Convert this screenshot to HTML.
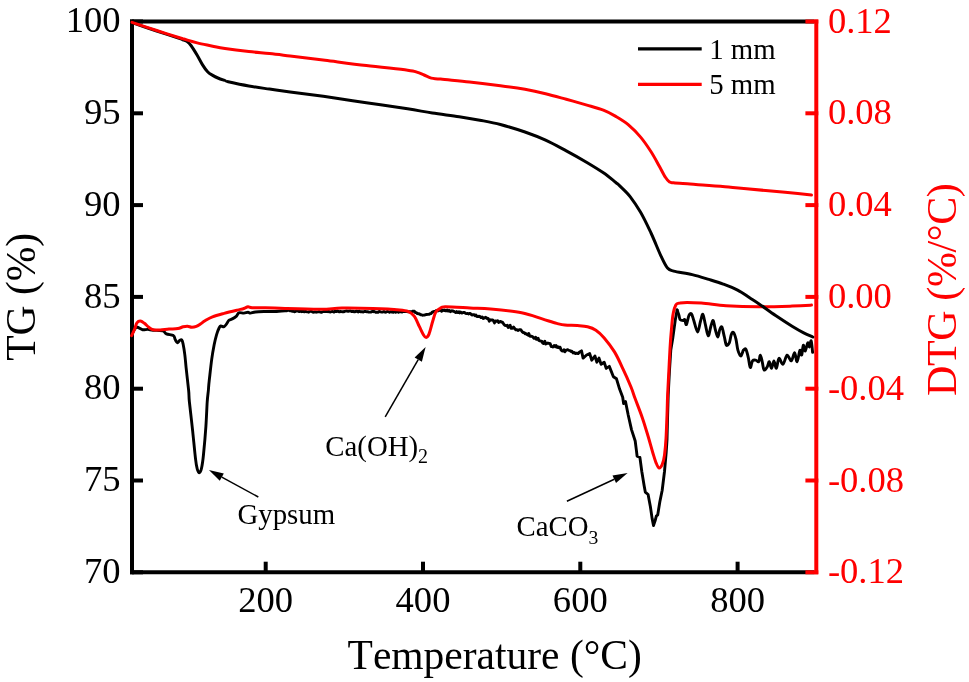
<!DOCTYPE html>
<html><head><meta charset="utf-8"><title>TG-DTG</title>
<style>html,body{margin:0;padding:0;background:#fff;}svg{display:block;}text{font-kerning:none;}svg{will-change:transform;}</style></head>
<body>
<svg width="969" height="682" viewBox="0 0 969 682">
<rect width="969" height="682" fill="#fff"/>
<g stroke="#000" stroke-width="4" fill="none">
<path d="M132,19.5V574.3"/>
<path d="M130,21.5H814.3"/>
<path d="M130,572.3H814.3"/>
<path d="M132,21.5H143"/>
<path d="M132,113.3H143"/>
<path d="M132,205.1H143"/>
<path d="M132,296.9H143"/>
<path d="M132,388.7H143"/>
<path d="M132,480.5H143"/>
<path d="M132,572.3H143"/>
<path d="M265.7,572.3V561.7"/>
<path d="M423.0,572.3V561.7"/>
<path d="M580.3,572.3V561.7"/>
<path d="M737.6,572.3V561.7"/>
</g>
<g stroke="#f00" stroke-width="4" fill="none">
<path d="M816.3,19.5V574.3"/>
<path d="M805.4,21.5H818.3"/>
<path d="M805.4,113.3H818.3"/>
<path d="M805.4,205.1H818.3"/>
<path d="M805.4,296.9H818.3"/>
<path d="M805.4,388.7H818.3"/>
<path d="M805.4,480.5H818.3"/>
<path d="M805.4,572.3H818.3"/>
</g>
<g fill="none" stroke-linejoin="round" stroke-linecap="round" stroke-width="3">
<path d="M132.0,334.0C132.5,333.1 134.1,329.6 135.0,328.5C135.9,327.4 136.0,327.1 137.3,327.3C138.6,327.5 140.8,329.4 142.6,329.7C144.4,330.0 146.2,329.3 147.9,329.4C149.7,329.5 150.6,330.1 153.1,330.3C155.6,330.5 160.6,330.2 162.8,330.8C165.0,331.4 164.6,333.1 166.4,333.9C168.2,334.7 171.9,334.7 173.4,335.6C174.9,336.6 174.5,338.4 175.2,339.6C175.9,340.8 176.7,342.6 177.4,342.7C178.1,342.8 178.9,340.9 179.6,340.5C180.3,340.1 181.2,339.4 181.8,340.0C182.4,340.6 182.6,341.6 183.1,344.0C183.6,346.4 184.3,350.7 184.8,354.6C185.3,358.5 185.5,361.7 186.1,367.6C186.7,373.5 188.0,384.3 188.6,390.0C189.2,395.7 188.7,395.1 189.4,402.0C190.1,408.9 191.7,421.7 192.7,431.3C193.7,440.9 194.8,453.1 195.6,459.4C196.3,465.6 196.6,466.6 197.2,468.8C197.8,471.0 198.6,472.8 199.3,472.8C200.0,472.8 200.7,471.9 201.4,468.8C202.1,465.8 202.8,461.6 203.5,454.5C204.2,447.4 205.3,435.1 205.9,426.3C206.5,417.6 206.8,408.1 207.2,402.0C207.6,395.9 208.1,393.5 208.4,390.0C208.7,386.5 208.6,385.9 209.2,380.8C209.8,375.7 210.9,365.4 211.7,359.4C212.5,353.3 213.4,348.6 214.2,344.5C215.0,340.4 215.8,337.4 216.6,334.6C217.4,331.9 218.4,329.4 219.1,328.0C219.8,326.6 220.0,326.2 220.8,326.0C221.6,325.8 223.1,327.1 224.1,326.7C225.1,326.3 225.8,324.9 226.6,323.9C227.4,322.9 227.8,321.3 228.7,320.5C229.6,319.7 231.0,319.6 232.3,318.9C233.6,318.2 235.4,317.1 236.5,316.1C237.6,315.1 237.7,313.3 238.9,312.8C240.1,312.3 242.4,313.2 243.9,313.1C245.4,313.0 246.9,312.3 248.0,312.3C249.1,312.3 249.3,313.2 250.5,313.1C251.7,313.1 252.9,312.3 255.4,312.0C257.9,311.7 262.4,311.6 265.4,311.5C268.4,311.4 270.3,311.6 273.6,311.5C276.9,311.4 283.1,310.8 285.0,310.7L285.0,310.5L285.8,310.9L286.5,310.8L287.5,310.4L288.5,310.4L289.4,310.5L290.2,310.9L291.4,310.7L292.2,311.2L293.5,311.2L294.4,311.7L295.1,311.6L296.0,310.9L296.8,311.1L298.0,311.0L299.0,311.6L299.9,311.5L300.7,311.1L301.5,311.7L302.5,311.4L303.5,311.5L304.4,311.9L305.5,311.4L306.6,311.7L307.8,311.9L308.7,312.2L309.4,311.6L310.6,311.4L311.6,311.3L312.7,312.1L313.7,312.2L314.6,312.0L315.7,311.9L316.6,312.2L317.9,311.9L319.0,311.5L320.1,312.1L321.4,312.3L322.3,311.9L323.4,311.5L324.4,311.6L325.1,311.4L326.3,311.5L327.1,311.7L328.4,311.4L329.3,311.8L330.6,312.0L331.8,311.5L332.7,311.5L334.0,312.1L334.8,311.3L335.6,311.3L336.6,311.6L337.4,311.0L338.4,311.4L339.4,311.9L340.6,311.5L341.6,311.6L342.4,311.8L343.5,311.8L344.7,311.3L345.6,311.1L346.7,311.0L347.5,311.2L348.3,311.3L349.0,311.0L349.8,311.1L350.7,311.0L351.9,311.6L352.7,311.3L353.6,311.4L354.4,311.9L355.7,311.5L356.7,311.2L357.4,311.4L358.3,311.9L359.1,311.1L360.4,311.7L361.2,311.7L361.9,311.7L363.2,312.0L364.3,311.4L365.2,311.4L366.4,311.7L367.5,311.6L368.4,312.1L369.7,312.1L370.8,312.1L372.0,311.5L373.0,311.7L373.7,311.3L374.6,311.6L375.7,312.3L376.7,312.2L378.0,312.3L378.9,311.5L379.7,311.5L380.5,311.9L381.8,312.1L382.8,312.0L383.9,311.4L385.0,312.2L386.2,312.1L387.2,311.5L388.4,311.6L389.5,312.3L390.5,311.7L391.8,312.0L392.6,311.4L393.3,312.2L394.5,311.4L395.7,312.3L396.8,311.7L397.8,311.4L398.6,312.3L399.6,311.8L400.9,311.7L402.1,312.1L403.0,311.6L403.8,311.5L404.9,311.5L405.8,311.4L407.1,311.6L408.1,311.8L409.3,311.6L410.5,311.7L411.6,311.7L412.3,311.6L413.1,311.1L414.3,311.3L415.3,312.5L416.3,312.7L417.3,313.5L418.5,313.7L419.5,314.0L420.4,314.7L421.4,314.7L422.5,315.2L423.5,315.1L424.5,315.1L425.6,314.7L426.6,314.5L427.9,314.4L429.1,314.3L430.0,313.7L431.2,313.5L432.0,312.4L433.0,311.9L433.8,311.5L434.9,311.7L436.2,310.5L437.3,310.7L438.1,310.9L439.4,310.2L440.6,310.3L441.6,311.3L442.8,310.0L443.8,310.5L444.7,310.0L445.6,310.9L446.3,310.8L447.3,310.0L448.2,311.1L449.2,310.4L450.5,311.7L451.7,310.8L452.6,310.9L453.8,311.4L454.6,311.8L455.8,312.6L456.7,311.6L457.9,312.5L459.0,311.8L459.8,312.9L460.7,312.0L462.0,313.1L463.2,312.4L464.4,312.5L465.6,313.3L466.5,313.6L467.8,313.4L468.5,314.0L469.4,313.5L470.2,313.5L471.0,314.1L471.9,315.0L472.7,314.8L473.6,314.7L474.3,314.7L475.0,315.7L476.0,315.1L477.0,316.5L477.8,316.6L478.7,316.3L479.9,316.5L480.9,317.6L482.2,317.0L483.4,318.5L484.5,318.0L485.4,317.3L486.2,317.6L487.3,318.6L488.1,318.4L489.3,321.2L490.4,319.8L491.3,320.0L492.2,319.9L493.2,320.4L494.5,322.9L495.5,320.9L496.8,321.4L497.7,320.7L498.6,322.4L499.6,321.8L500.6,321.4L501.5,322.0L502.4,322.2L503.2,323.3L504.0,324.5L505.0,325.4L506.1,325.7L507.3,325.3L508.2,327.4L509.0,326.9L510.1,325.3L511.3,328.4L512.4,328.3L513.6,327.0L514.6,328.5L515.8,329.9L517.0,329.7L518.2,330.5L519.3,329.6L520.1,329.6L521.0,329.9L522.2,331.8L523.2,332.5L524.4,332.6L525.1,333.9L526.2,333.6L527.2,334.6L528.0,335.2L528.8,333.6L529.7,336.0L530.5,336.4L531.8,336.3L532.7,336.7L533.8,338.2L534.9,338.3L535.6,337.2L536.5,339.4L537.4,339.4L538.1,338.2L538.9,340.5L540.1,341.0L540.9,341.0L541.9,341.4L542.7,343.0L543.5,343.5L544.8,341.2L545.7,344.0L547.0,343.4L547.9,343.0L549.2,343.5L550.2,343.7L551.2,346.5L552.0,346.4L553.0,347.0L554.1,345.5L555.4,346.8L556.1,345.6L557.1,347.4L558.0,346.8L558.9,347.7L560.1,347.2L561.2,350.2L562.0,350.8L563.1,351.1L564.0,349.7L564.9,351.8L566.0,350.1L566.9,350.0L567.7,349.6L568.9,350.4L570.1,350.6L571.0,351.5L571.8,351.2L573.1,353.0L574.3,352.5L575.5,353.6L576.5,353.2L577.3,353.3L578.2,353.6L579.3,352.3L581.5,350.9L583.1,358.1L586.6,355.0L589.7,353.6L591.8,360.2L594.9,356.0L596.9,362.2L599.0,358.1L601.1,364.3L604.2,362.2L606.2,368.4L609.3,366.4L613.4,376.7L616.5,378.8L619.6,389.1L622.7,397.3L623.6,403.5L625.5,401.5L628.1,414.5L631.5,429.6L635.2,441.0L636.4,450.4L637.1,456.2L639.9,457.4L641.8,471.5L644.1,485.6L645.3,492.1L648.1,494.5L650.4,506.7L652.1,518.4L653.5,525.5L655.1,520.8L656.3,516.1L657.7,514.9L659.8,502.0L662.2,490.3L664.5,471.5L666.2,452.0L667.0,440.0L667.5,420.0L668.2,395.0L669.4,372.0L670.8,350.0L672.8,338.0L675.2,320.5L677.1,310.0" stroke="#000" stroke-width="2.9"/>
<path d="M677.1,310.0C677.4,310.9 678.5,313.9 679.0,315.5C679.5,317.1 679.4,318.8 680.1,319.6C680.8,320.4 682.3,320.5 683.1,320.5C683.9,320.5 684.2,318.9 684.8,319.6C685.3,320.3 685.7,325.3 686.4,324.6C687.1,323.9 688.1,317.3 688.9,315.5C689.7,313.7 690.6,313.1 691.4,313.9C692.2,314.7 692.8,317.5 693.8,320.5C694.8,323.5 696.5,331.9 697.6,332.0C698.7,332.1 699.6,324.2 700.5,321.3C701.4,318.4 702.1,313.8 702.9,314.3C703.7,314.9 704.5,321.0 705.4,324.6C706.3,328.2 707.3,335.5 708.2,335.8C709.1,336.1 710.1,328.8 710.9,326.2C711.7,323.6 712.5,319.9 713.2,320.5C713.9,321.1 714.5,326.8 715.3,329.5C716.1,332.2 717.0,337.0 717.8,337.0C718.5,337.0 719.1,331.1 719.8,329.5C720.5,327.9 721.1,325.9 721.9,327.1C722.7,328.4 723.6,334.0 724.4,337.0C725.1,340.0 725.6,344.2 726.4,345.2C727.2,346.1 728.6,344.5 729.4,342.7C730.2,340.9 730.6,336.2 731.3,334.5C732.0,332.8 732.7,331.7 733.5,332.5C734.3,333.3 735.3,336.4 736.0,339.4C736.7,342.3 737.1,347.4 737.9,350.2C738.7,353.0 740.0,356.0 740.9,356.0C741.8,356.0 742.6,351.3 743.4,350.2C744.2,349.1 745.1,348.2 745.9,349.4C746.7,350.6 747.6,354.6 748.3,357.6C749.0,360.6 749.6,366.9 750.3,367.5C751.0,368.1 751.6,362.1 752.5,360.9C753.4,359.7 754.8,360.0 755.8,360.1C756.8,360.2 757.9,362.5 758.7,361.7C759.5,360.9 759.8,355.0 760.4,355.1C761.0,355.2 761.8,360.1 762.4,362.6C763.0,365.1 763.2,369.3 764.0,370.0C764.8,370.7 766.4,368.1 767.3,366.7C768.2,365.3 768.6,361.4 769.3,361.7C770.0,362.0 770.7,368.4 771.5,368.3C772.3,368.2 773.1,360.9 773.9,360.9C774.7,360.9 775.6,368.7 776.4,368.3C777.2,367.9 777.8,359.1 778.9,358.4C780.0,357.7 781.6,364.8 783.0,364.2C784.4,363.6 785.7,355.7 787.1,355.1C788.5,354.6 790.0,361.3 791.3,360.9C792.5,360.5 793.6,352.6 794.6,352.7C795.6,352.8 796.2,362.1 797.1,361.7C798.0,361.3 799.2,351.3 800.0,350.2C800.8,349.1 801.2,355.9 801.7,355.1C802.2,354.3 802.7,345.9 803.3,345.2C803.9,344.5 804.5,351.4 805.3,351.0C806.0,350.6 807.1,343.4 807.8,342.7C808.5,342.0 808.8,347.2 809.4,346.9C810.0,346.6 810.7,340.0 811.2,340.9C811.7,341.8 812.4,350.4 812.6,352.3" stroke="#000" stroke-width="2.9"/>
<path d="M131.6,335.6C132.1,334.5 133.8,331.1 134.7,329.0C135.6,326.9 135.9,324.2 136.9,322.9C137.9,321.6 139.2,321.0 140.4,321.1C141.7,321.2 143.0,322.3 144.4,323.3C145.8,324.3 147.3,326.2 148.8,327.3C150.3,328.4 151.3,329.3 153.2,329.7C155.1,330.1 157.6,330.0 160.2,329.9C162.8,329.8 166.1,329.2 169.0,329.0C171.9,328.8 175.5,329.0 177.8,328.6C180.2,328.2 181.5,327.2 183.1,326.8C184.7,326.4 186.0,326.1 187.5,326.2C189.0,326.3 190.4,327.3 191.9,327.3C193.4,327.3 194.8,327.0 196.3,326.4C197.8,325.8 199.2,324.8 200.7,323.8C202.1,322.9 203.0,321.9 205.0,320.7C207.0,319.5 209.3,318.0 212.5,316.8C215.7,315.6 220.0,314.5 224.1,313.4C228.2,312.3 234.0,310.9 237.3,310.1C240.6,309.3 242.1,309.1 243.9,308.5C245.7,307.9 246.6,306.9 248.0,306.8C249.4,306.7 249.2,307.6 252.1,307.8C255.0,308.0 259.9,307.7 265.4,307.8C270.9,307.9 275.7,308.2 285.0,308.5C294.3,308.8 311.8,309.4 321.3,309.3C330.8,309.2 333.3,308.2 341.9,308.1C350.5,308.0 363.3,308.2 372.9,308.5C382.5,308.8 393.8,309.4 399.7,309.9C405.6,310.4 405.6,310.4 408.0,311.4C410.4,312.4 412.3,313.6 414.2,316.1C416.1,318.6 417.8,323.3 419.3,326.4C420.8,329.5 422.3,332.9 423.4,334.7C424.5,336.5 425.2,337.5 426.1,337.4C427.0,337.3 427.9,336.8 429.0,334.1C430.1,331.4 431.6,325.0 432.7,321.3C433.8,317.6 434.6,314.1 435.8,312.0C437.0,309.9 438.4,309.4 440.0,308.5C441.6,307.6 440.1,306.9 445.1,306.8C450.1,306.7 462.4,307.6 470.0,308.0C477.6,308.4 482.0,308.2 490.6,309.0C499.2,309.8 513.0,311.1 521.6,312.7C530.2,314.3 536.4,317.1 542.2,318.9C548.1,320.7 552.9,322.4 556.7,323.4C560.5,324.4 561.5,324.8 564.9,325.1C568.3,325.5 573.5,325.2 577.3,325.5C581.1,325.8 584.5,325.9 587.6,326.7C590.7,327.5 593.1,328.3 595.9,330.2C598.7,332.1 601.1,334.3 604.2,337.9C607.3,341.5 611.4,346.8 614.5,351.9C617.6,357.0 620.0,362.5 622.7,368.4C625.5,374.2 628.9,381.9 631.0,387.0C633.1,392.1 633.3,393.7 635.2,398.8C637.1,403.9 640.1,411.2 642.2,417.5C644.4,423.8 646.3,430.4 648.1,436.3C649.9,442.2 651.4,448.2 652.8,452.7C654.2,457.2 655.2,460.8 656.3,463.3C657.3,465.9 658.1,467.8 659.1,468.0C660.1,468.2 661.3,466.6 662.2,464.5C663.1,462.4 663.9,459.4 664.5,455.1C665.1,450.8 665.6,445.4 666.0,438.7C666.4,432.0 666.7,422.4 667.0,415.2C667.3,408.0 667.3,402.8 667.6,395.6C667.9,388.4 668.4,379.8 668.8,372.0C669.2,364.2 669.6,355.7 670.0,348.7C670.4,341.7 670.9,335.5 671.4,330.0C671.9,324.5 672.2,319.7 672.8,315.8C673.4,311.9 674.0,308.5 675.2,306.4C676.4,304.2 675.5,303.4 679.9,302.9C684.2,302.3 693.6,302.6 701.3,303.1C709.0,303.6 716.5,305.2 726.1,305.8C735.7,306.4 748.1,306.8 759.1,306.8C770.1,306.9 783.4,306.4 792.1,306.1C800.8,305.8 808.3,305.3 811.5,305.1" stroke="#f00"/>
<path d="M132.0,22.5C134.3,23.3 139.9,25.4 145.6,27.3C151.3,29.2 160.6,32.2 166.3,34.1C172.0,36.0 177.1,37.7 180.0,38.7C182.9,39.7 182.8,39.8 184.0,40.2C185.2,40.7 185.7,40.5 186.9,41.4C188.1,42.3 189.3,43.2 191.0,45.5C192.7,47.8 195.3,52.1 197.2,55.3C199.1,58.5 200.7,61.8 202.4,64.6C204.1,67.3 205.9,70.0 207.6,71.8C209.3,73.6 211.0,74.4 212.7,75.4C214.4,76.4 215.8,77.1 217.9,78.0C220.0,78.9 223.3,80.0 225.0,80.6C226.7,81.2 224.2,80.9 228.2,81.8C232.2,82.7 241.9,84.8 248.8,86.0C255.7,87.2 262.6,88.1 269.5,89.1C276.4,90.1 280.9,90.7 290.1,91.9C299.4,93.2 312.3,94.8 325.0,96.6C337.7,98.4 352.5,100.7 366.3,102.7C380.1,104.7 396.6,107.1 407.6,108.8C418.6,110.5 423.7,111.7 432.3,113.0C440.9,114.3 451.3,115.5 459.2,116.7C467.1,117.9 472.9,118.9 479.8,120.2C486.7,121.5 492.9,122.5 500.4,124.5C507.9,126.5 517.5,129.4 525.0,132.0C532.5,134.6 538.7,137.0 545.6,140.2C552.5,143.3 559.4,147.2 566.3,150.9C573.2,154.6 580.7,158.8 586.9,162.5C593.1,166.2 598.6,169.5 603.4,172.8C608.2,176.1 613.0,180.3 615.8,182.5C618.6,184.7 617.6,183.7 620.0,186.1C622.4,188.5 626.9,192.4 630.3,196.8C633.7,201.2 637.1,206.3 640.6,212.3C644.1,218.3 647.5,225.6 651.0,233.0C654.5,240.4 658.5,250.9 661.3,256.7C664.0,262.5 665.4,265.6 667.5,268.0C669.6,270.4 669.6,270.0 673.7,271.1C677.8,272.2 686.4,273.2 692.2,274.6C698.1,276.0 703.6,277.8 708.8,279.4C714.0,281.0 718.4,282.3 723.2,284.1C728.0,285.9 733.1,287.8 737.6,290.1C742.1,292.4 746.4,295.7 750.0,298.0C753.6,300.3 754.8,301.0 759.1,303.9C763.4,306.8 770.1,311.8 775.6,315.5C781.1,319.2 787.4,323.3 792.1,326.2C796.8,329.1 800.2,331.0 803.7,332.8C807.2,334.6 811.3,336.3 812.8,337.0" stroke="#000"/>
<path d="M132.0,22.3C134.3,23.1 139.9,25.0 145.6,26.9C151.3,28.8 160.1,31.6 166.3,33.6C172.5,35.6 177.7,37.2 182.8,38.8C188.0,40.3 192.2,41.7 197.2,42.9C202.2,44.1 208.1,45.2 212.7,46.2C217.3,47.2 219.0,47.7 225.0,48.6C231.0,49.5 241.4,50.8 248.8,51.6C256.2,52.4 262.6,52.9 269.5,53.6C276.4,54.3 280.9,54.9 290.1,56.0C299.4,57.1 312.3,58.7 325.0,60.3C337.7,61.9 352.5,63.9 366.3,65.5C380.1,67.2 399.2,69.1 407.6,70.2C416.0,71.3 414.1,71.3 416.8,72.1C419.6,72.9 421.7,74.0 424.1,75.0C426.5,76.0 428.6,77.4 431.3,78.1C434.1,78.8 434.2,78.4 440.6,79.1C447.0,79.8 459.5,80.9 469.5,82.0C479.5,83.1 491.1,84.5 500.4,85.7C509.6,86.9 517.5,88.0 525.0,89.3C532.5,90.6 538.7,92.0 545.6,93.7C552.5,95.4 559.4,97.4 566.3,99.3C573.2,101.2 580.7,103.3 586.9,105.1C593.1,106.9 598.6,108.3 603.4,110.2C608.2,112.1 611.7,114.0 615.8,116.4C619.9,118.8 624.1,121.2 628.2,124.7C632.3,128.2 636.8,132.6 640.6,137.1C644.4,141.6 647.8,146.7 650.9,151.5C654.0,156.3 656.8,161.7 659.2,166.0C661.6,170.3 663.7,174.7 665.4,177.3C667.1,180.0 668.1,181.0 669.5,181.9C670.9,182.8 670.2,182.5 673.6,182.8C677.0,183.2 685.3,183.6 690.1,184.0C694.9,184.4 696.8,184.6 702.6,185.0C708.4,185.4 718.1,186.1 725.0,186.7C731.9,187.3 733.8,187.7 743.8,188.6C753.8,189.5 773.8,191.2 785.1,192.3C796.4,193.4 807.1,194.6 811.5,195.1" stroke="#f00"/>
</g>
<g font-family="'Liberation Serif', serif" font-size="36.6">
<text x="120.5" y="32.1" text-anchor="end">100</text>
<text x="120.5" y="123.9" text-anchor="end">95</text>
<text x="120.5" y="215.7" text-anchor="end">90</text>
<text x="120.5" y="307.5" text-anchor="end">85</text>
<text x="120.5" y="399.3" text-anchor="end">80</text>
<text x="120.5" y="491.1" text-anchor="end">75</text>
<text x="120.5" y="582.9" text-anchor="end">70</text>
<text x="265.7" y="611.8" text-anchor="middle">200</text>
<text x="423.0" y="611.8" text-anchor="middle">400</text>
<text x="580.3" y="611.8" text-anchor="middle">600</text>
<text x="737.6" y="611.8" text-anchor="middle">800</text>
<g fill="#f00">
<text x="827.9" y="32.5">0.12</text>
<text x="827.9" y="124.3">0.08</text>
<text x="827.9" y="216.1">0.04</text>
<text x="827.9" y="307.9">0.00</text>
<text x="827.9" y="399.7">-0.04</text>
<text x="827.9" y="491.5">-0.08</text>
<text x="827.9" y="583.3">-0.12</text>
</g></g>
<g font-family="'Liberation Serif', serif" font-size="41.5">
<text x="494.7" y="668.8" text-anchor="middle">Temperature (°C)</text>
<text transform="translate(35.0,296.8) rotate(-90)" text-anchor="middle" font-size="41.5">TG (%)</text>
<text transform="translate(955.8,289.8) rotate(-90)" text-anchor="middle" fill="#f00" font-size="42" letter-spacing="-0.4">DTG (%/°C)</text>
</g>
<g stroke-width="3.2" fill="none"><path d="M638,48.8H701.7" stroke="#000"/><path d="M638,84.4H701.7" stroke="#f00"/></g>
<g font-family="'Liberation Serif', serif" font-size="28.8">
<text x="709.2" y="59">1 mm</text>
<text x="709.2" y="94.3">5 mm</text>
<text x="237.5" y="524">Gypsum</text>
<text x="325.3" y="455.5">Ca(OH)<tspan font-size="20" dy="7.5">2</tspan></text>
<text x="516.5" y="536.2">CaCO<tspan font-size="19.6" dy="7.6">3</tspan></text>
</g>
<path d="M258.3,497.0L221.8,477.1" stroke="#000" stroke-width="1.5" fill="none"/><path d="M208.9,470.1L223.8,473.4L219.8,480.8Z" fill="#000"/>
<path d="M385.2,416.8L418.2,359.7" stroke="#000" stroke-width="1.5" fill="none"/><path d="M425.6,347.0L421.9,361.8L414.6,357.6Z" fill="#000"/>
<path d="M566.9,501.2L614.3,479.3" stroke="#000" stroke-width="1.5" fill="none"/><path d="M627.6,473.1L616.0,483.1L612.5,475.5Z" fill="#000"/>
</svg>
</body></html>
